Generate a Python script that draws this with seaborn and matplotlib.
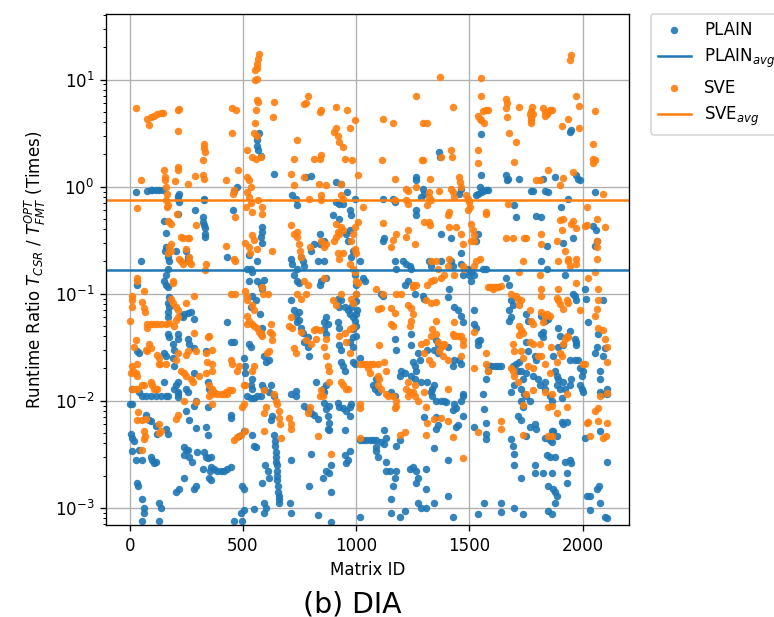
import pandas as pd
import matplotlib
matplotlib.use("Agg")
import matplotlib.pyplot as plt
import seaborn as sns

# (matrix id, runtime ratio), grouped by x range
plain_0_360 = [
    (27, 0.90), (78, 0.92), (93, 0.94), (100, 0.94), (115, 0.94), (130, 0.94), (145, 0.94),
    (218, 0.86), (211, 0.81), (215, 0.77), (218, 0.72),
    (329, 0.77), (326, 0.75), (289, 0.61), (215, 0.55), (152, 0.48),
    (322, 0.52), (325, 0.47), (329, 0.44), (332, 0.41), (333, 0.36), (332, 0.34),
    (159, 0.37), (204, 0.25), (159, 0.27), (156, 0.25), (171, 0.22), (174, 0.20),
    (248, 0.25), (255, 0.22), (255, 0.20), (49, 0.20),
    (167, 0.17), (159, 0.15), (152, 0.13), (159, 0.12), (167, 0.115), (34, 0.12),
    (174, 0.094), (167, 0.082), (174, 0.075), (167, 0.068), (170, 0.060),
    (226, 0.062), (233, 0.060), (240, 0.064), (255, 0.066), (270, 0.068), (285, 0.058),
    (167, 0.042), (174, 0.039), (211, 0.042), (211, 0.038), (255, 0.038), (263, 0.034),
    (189, 0.034), (196, 0.030), (189, 0.025), (196, 0.021), (152, 0.028), (159, 0.026),
    (285, 0.031), (336, 0.029), (34, 0.029), (41, 0.028),
    (152, 0.015), (211, 0.015), (204, 0.014), (196, 0.013), (211, 0.012), (285, 0.018),
    (12, 0.013), (41, 0.012), (56, 0.011), (71, 0.011), (93, 0.011), (115, 0.011),
    (137, 0.011), (159, 0.011), (167, 0.011),
    (248, 0.013), (255, 0.012), (344, 0.015), (351, 0.013),
    (0, 0.0094), (12, 0.0094), (215, 0.0108), (211, 0.0116), (292, 0.010), (285, 0.009),
    (344, 0.0087), (248, 0.008), (260, 0.0066), (71, 0.0074), (86, 0.0066), (93, 0.0064),
    (115, 0.0058), (122, 0.0049), (159, 0.0055), (167, 0.0049), (292, 0.0056),
    (336, 0.0057), (344, 0.0048), (4, 0.0049), (12, 0.0045), (19, 0.0042),
    (41, 0.0035), (27, 0.0028), (12, 0.0034), (56, 0.0028), (93, 0.0030), (100, 0.0028),
    (108, 0.0026), (115, 0.0027),
    (240, 0.0037), (248, 0.0035), (255, 0.0035), (240, 0.0031), (263, 0.0030), (277, 0.0027),
    (299, 0.0033), (329, 0.0033), (336, 0.0030), (344, 0.0029), (322, 0.0023), (354, 0.0022),
    (240, 0.0019), (285, 0.0015), (292, 0.0016), (351, 0.0019), (34, 0.0017), (38, 0.0016),
    (204, 0.0014), (218, 0.0015), (56, 0.0012), (63, 0.0010), (63, 0.0009), (53, 0.00076),
    (130, 0.0011), (137, 0.0010), (130, 0.00076),
]

plain_360_820 = [
    (570, 3.2), (563, 3.0), (563, 2.7), (563, 2.4), (566, 2.2), (578, 1.95),
    (637, 1.32), (475, 1.0), (460, 0.92), (455, 0.60),
    (718, 0.83), (733, 0.77), (740, 0.67), (777, 1.23), (799, 1.26),
    (582, 0.42), (585, 0.38), (578, 0.34), (582, 0.30), (428, 0.22),
    (526, 0.23), (563, 0.20), (519, 0.17), (534, 0.17), (541, 0.16),
    (711, 0.21), (718, 0.19), (755, 0.22), (763, 0.20), (770, 0.18), (740, 0.17), (726, 0.15),
    (814, 0.29), (799, 0.25),
    (526, 0.13), (563, 0.13), (593, 0.135), (578, 0.12), (585, 0.11), (740, 0.13), (748, 0.125),
    (541, 0.096), (556, 0.087), (534, 0.075),
    (711, 0.087), (726, 0.070), (748, 0.068), (733, 0.062), (748, 0.057), (740, 0.054),
    (755, 0.048), (763, 0.043), (785, 0.039),
    (575, 0.065), (585, 0.048), (578, 0.042), (527, 0.034), (534, 0.032),
    (770, 0.035), (785, 0.032), (792, 0.026), (428, 0.054), (445, 0.035), (460, 0.035),
    (504, 0.025), (511, 0.021), (511, 0.018), (593, 0.026), (600, 0.023), (615, 0.024),
    (541, 0.016), (534, 0.014), (541, 0.013), (585, 0.014), (593, 0.013),
    (622, 0.014), (615, 0.012), (637, 0.011),
    (519, 0.011), (534, 0.0105), (549, 0.0105), (563, 0.011), (578, 0.011),
    (711, 0.0116), (733, 0.0123), (733, 0.011),
    (770, 0.009), (785, 0.0084), (799, 0.0076), (814, 0.0073), (445, 0.0073), (445, 0.0069),
    (630, 0.0072), (622, 0.0066), (482, 0.0047), (504, 0.0052), (541, 0.0048),
    (549, 0.0038), (556, 0.0037),
    (637, 0.0048), (640, 0.0042), (642, 0.0038), (644, 0.0033), (646, 0.0030), (648, 0.0027),
    (649, 0.0025), (650, 0.0022), (652, 0.0020), (652, 0.0018), (654, 0.0016), (656, 0.0014),
    (657, 0.0013), (659, 0.0012), (660, 0.0011),
    (597, 0.0025), (611, 0.0022), (615, 0.0019),
    (357, 0.0030), (357, 0.0024), (372, 0.0023), (386, 0.0022), (401, 0.0022), (416, 0.0022),
    (431, 0.0023), (445, 0.0024), (357, 0.0018),
    (711, 0.0028), (799, 0.0032), (792, 0.0016), (585, 0.0017), (497, 0.0016), (504, 0.0015),
    (593, 0.0011), (600, 0.0010), (593, 0.0009), (708, 0.0011), (711, 0.0009),
    (504, 0.00095), (490, 0.0009), (497, 0.00075), (460, 0.00075), (549, 0.00098),
]

plain_820_1290 = [
    (909, 1.10), (934, 1.05), (960, 0.90), (1266, 1.23), (1266, 1.15),
    (912, 0.72), (926, 0.69), (941, 0.69), (971, 0.60), (978, 0.54),
    (993, 0.76), (1118, 0.77), (1162, 0.77), (1170, 0.72), (1266, 0.60), (1266, 0.54),
    (897, 0.54), (926, 0.50), (838, 0.36), (841, 0.29), (860, 0.31),
    (971, 0.39), (956, 0.36), (963, 0.31), (1118, 0.31), (1125, 0.33),
    (830, 0.20), (860, 0.20), (845, 0.13), (838, 0.12), (867, 0.14),
    (985, 0.25), (978, 0.22), (1015, 0.20), (1030, 0.14), (1037, 0.13),
    (1170, 0.20), (1177, 0.17), (1207, 0.20), (1221, 0.19), (1236, 0.18), (1243, 0.17),
    (1229, 0.13), (1214, 0.12), (1258, 0.10), (1111, 0.10), (1118, 0.096),
    (995, 0.15), (997, 0.12), (1000, 0.10), (1000, 0.085), (1003, 0.070), (1000, 0.050),
    (998, 0.040),
    (919, 0.090), (934, 0.087), (926, 0.075), (949, 0.075), (963, 0.070), (971, 0.065),
    (978, 0.075), (985, 0.081), (985, 0.060), (993, 0.056), (1000, 0.065),
    (919, 0.054), (926, 0.048), (867, 0.060), (860, 0.054), (875, 0.052), (860, 0.047),
    (867, 0.042), (985, 0.047), (985, 0.039), (971, 0.035), (985, 0.032), (926, 0.033),
    (934, 0.030), (1170, 0.038), (1177, 0.030),
    (1243, 0.042), (1243, 0.033), (1251, 0.023), (1258, 0.021), (1266, 0.019), (1243, 0.017),
    (1258, 0.016), (1273, 0.028), (1280, 0.024), (1199, 0.019), (1192, 0.017), (1214, 0.018),
    (934, 0.023), (941, 0.021), (949, 0.019), (985, 0.023), (993, 0.022),
    (823, 0.015), (867, 0.014), (852, 0.013), (860, 0.012), (1015, 0.025),
    (1089, 0.016), (1074, 0.014), (1081, 0.013), (1096, 0.012), (1155, 0.012), (1170, 0.011),
    (860, 0.0095), (867, 0.0083), (882, 0.009), (919, 0.0095), (926, 0.0088), (941, 0.0085),
    (956, 0.008), (971, 0.0088), (978, 0.0094),
    (830, 0.0067), (875, 0.0072), (882, 0.0062), (875, 0.0054), (882, 0.0053), (949, 0.0053),
    (971, 0.0072),
    (1015, 0.0043), (1030, 0.0043), (1044, 0.0043), (1059, 0.0043), (1074, 0.0043),
    (1089, 0.0043), (1111, 0.0041), (1089, 0.0037), (1089, 0.0034), (1096, 0.0030),
    (1125, 0.0053), (1133, 0.0045), (1125, 0.0039),
    (1133, 0.0022), (1148, 0.0022), (1177, 0.0022), (1170, 0.0019), (1162, 0.0016),
    (1133, 0.0027), (1192, 0.0043), (1177, 0.0038),
    (1236, 0.0023), (1251, 0.0024), (1266, 0.0022), (1273, 0.0019), (1266, 0.0017),
    (1273, 0.0011), (882, 0.0021), (867, 0.0022), (852, 0.0019), (889, 0.0025),
    (949, 0.0031), (963, 0.0028), (956, 0.0026), (971, 0.0034),
    (889, 0.0014), (830, 0.00085), (889, 0.00073), (1015, 0.00082),
    (1155, 0.0009), (1192, 0.00082), (1214, 0.00093), (1155, 0.0012),
]

plain_1290_1750 = [
    (1552, 3.1), (1367, 2.1), (1371, 1.9),
    (1552, 1.28), (1545, 1.0), (1537, 0.86), (1552, 0.89), (1560, 0.92), (1574, 0.94),
    (1581, 0.94), (1530, 0.83),
    (1662, 1.28), (1670, 1.19), (1666, 1.15), (1721, 1.19),
    (1293, 0.96), (1301, 0.86), (1286, 0.80), (1463, 0.96), (1456, 0.86),
    (1699, 0.67), (1707, 0.52), (1374, 0.36), (1419, 0.33), (1537, 0.36), (1530, 0.31),
    (1463, 0.24),
    (1322, 0.20), (1330, 0.18), (1374, 0.20), (1419, 0.20), (1426, 0.18), (1463, 0.19),
    (1470, 0.15), (1493, 0.17), (1500, 0.15), (1507, 0.13), (1522, 0.15), (1507, 0.16),
    (1560, 0.17), (1574, 0.17),
    (1662, 0.14), (1677, 0.12), (1411, 0.11), (1404, 0.093), (1301, 0.090), (1293, 0.096),
    (1684, 0.087), (1692, 0.078), (1677, 0.070), (1684, 0.060), (1677, 0.056),
    (1434, 0.075), (1448, 0.070), (1463, 0.062), (1470, 0.054),
    (1522, 0.070), (1522, 0.052), (1530, 0.048), (1545, 0.037), (1537, 0.036), (1537, 0.033),
    (1352, 0.037), (1360, 0.034), (1315, 0.030), (1345, 0.030), (1360, 0.028),
    (1404, 0.032), (1434, 0.024), (1426, 0.021), (1456, 0.024), (1463, 0.022),
    (1581, 0.021), (1589, 0.021), (1596, 0.021), (1611, 0.021), (1625, 0.021), (1640, 0.021),
    (1581, 0.019), (1574, 0.016),
    (1714, 0.019), (1729, 0.019), (1736, 0.016), (1692, 0.021), (1707, 0.022), (1721, 0.023),
    (1684, 0.012), (1699, 0.014), (1729, 0.013), (1743, 0.0116),
    (1286, 0.015), (1315, 0.015), (1345, 0.014), (1337, 0.013), (1330, 0.012), (1337, 0.011),
    (1352, 0.010), (1374, 0.010), (1389, 0.010), (1396, 0.0097),
    (1470, 0.0116), (1470, 0.011), (1463, 0.010), (1434, 0.0094), (1441, 0.0085),
    (1426, 0.0082), (1560, 0.0116), (1566, 0.0083),
    (1729, 0.010), (1736, 0.0088), (1729, 0.0066), (1714, 0.0072),
    (1301, 0.0070), (1352, 0.0070), (1360, 0.0059), (1352, 0.0055),
    (1441, 0.0057), (1448, 0.0059), (1470, 0.0072),
    (1522, 0.0057), (1574, 0.0062), (1574, 0.0049), (1574, 0.0044),
    (1345, 0.0036), (1404, 0.0028),
    (1684, 0.0044), (1692, 0.0038), (1699, 0.0032), (1699, 0.0025),
    (1308, 0.0023), (1729, 0.0019), (1308, 0.0015),
    (1345, 0.0011), (1404, 0.0013), (1286, 0.0010), (1308, 0.0010), (1426, 0.00082),
    (1537, 0.00088), (1566, 0.0011), (1640, 0.0011), (1640, 0.00092), (1699, 0.0010),
    (1736, 0.00088),
]

plain_1750_2110 = [
    (1944, 3.25), (1951, 3.4), (1970, 1.28), (1981, 1.19), (1988, 1.15),
    (1774, 0.92), (1782, 0.92), (1833, 0.92), (1848, 0.89), (1878, 1.23), (1826, 1.19),
    (2055, 0.89), (1937, 0.77), (1904, 0.65), (1796, 0.53), (1818, 0.52),
    (2047, 0.43), (2059, 0.39), (2065, 0.31), (2055, 0.28),
    (1959, 0.33), (1914, 0.30), (1841, 0.28), (1818, 0.20), (1841, 0.17), (1922, 0.15),
    (1959, 0.10), (2011, 0.11), (2014, 0.09), (1973, 0.087), (1966, 0.096),
    (2092, 0.087), (2025, 0.054), (1752, 0.064), (1759, 0.056),
    (1818, 0.062), (1833, 0.056), (1826, 0.044), (1818, 0.042), (1826, 0.039), (1848, 0.058),
    (1893, 0.048), (1900, 0.040), (1944, 0.045), (1966, 0.038), (1973, 0.035), (1973, 0.033),
    (2070, 0.042), (2062, 0.032), (2055, 0.028), (2099, 0.031), (2092, 0.026),
    (1752, 0.035), (1759, 0.029), (1789, 0.026), (1796, 0.024),
    (1870, 0.026), (1893, 0.032), (1914, 0.033),
    (1944, 0.024), (1966, 0.024), (1981, 0.024), (1988, 0.020), (1996, 0.017), (2003, 0.019),
    (1752, 0.018), (1782, 0.017), (1804, 0.016), (1811, 0.014), (1833, 0.015), (1833, 0.013),
    (1878, 0.019), (1885, 0.017), (1893, 0.016), (1885, 0.014), (1900, 0.013), (1914, 0.015),
    (1922, 0.013), (1944, 0.014), (1951, 0.016),
    (1988, 0.014), (1996, 0.013), (2003, 0.012),
    (2077, 0.019), (2077, 0.016), (2077, 0.012), (2084, 0.0115), (2106, 0.013), (2106, 0.0116),
    (1752, 0.011), (1767, 0.010), (1856, 0.011), (1863, 0.010), (1907, 0.0106),
    (1767, 0.0057), (1789, 0.0060), (1796, 0.0054), (1752, 0.0047),
    (1863, 0.0052), (1870, 0.0052), (1885, 0.0047), (1907, 0.0063), (1914, 0.0061),
    (1929, 0.0063), (1856, 0.0043), (1863, 0.0041), (1833, 0.0045),
    (2011, 0.0045), (2077, 0.0052),
    (1789, 0.0025), (1789, 0.0021), (1826, 0.0021), (1863, 0.0021),
    (1841, 0.0031), (1856, 0.0030), (1878, 0.0030),
    (1922, 0.0027), (1944, 0.0028), (1951, 0.0026), (1929, 0.0021), (2106, 0.0027),
    (1848, 0.0016), (1870, 0.0015), (1878, 0.0014), (1885, 0.0013), (1878, 0.0011),
    (1929, 0.0017),
    (2018, 0.0013), (2033, 0.0013), (2062, 0.0015), (2074, 0.0016), (2077, 0.0011),
    (2033, 0.00096), (1848, 0.00094), (1863, 0.00088), (2099, 0.00082), (2106, 0.0008),
]

sve_0_360 = [
    (27, 5.4), (78, 4.3), (93, 4.5), (108, 4.6), (122, 4.8), (137, 4.9), (148, 4.9), (83, 3.8),
    (211, 5.2), (218, 5.3), (214, 3.3),
    (326, 2.5), (329, 2.3), (332, 2.1), (325, 1.76), (322, 1.28), (326, 1.19), (289, 1.26),
    (211, 1.53), (211, 1.42), (200, 1.12), (152, 1.42), (156, 1.23), (157, 1.15), (159, 1.0),
    (49, 1.15), (255, 1.05), (34, 0.63),
    (164, 0.86), (159, 0.75), (167, 0.67), (164, 0.65), (208, 0.56), (292, 0.44),
    (167, 0.48), (174, 0.47), (181, 0.45),
    (226, 0.34), (233, 0.33), (255, 0.33), (263, 0.33),
    (181, 0.29), (174, 0.27), (181, 0.25), (167, 0.24),
    (248, 0.26), (263, 0.22), (263, 0.20), (270, 0.19),
    (218, 0.21), (226, 0.20), (233, 0.19), (336, 0.19), (333, 0.165),
    (34, 0.14), (34, 0.13), (63, 0.106), (189, 0.13), (193, 0.125),
    (12, 0.096), (12, 0.087), (12, 0.075), (56, 0.084), (63, 0.073), (68, 0.068),
    (184, 0.090), (189, 0.082), (204, 0.075), (211, 0.070), (248, 0.082), (285, 0.095),
    (1, 0.055), (78, 0.052), (93, 0.052), (108, 0.052), (122, 0.052), (137, 0.052),
    (159, 0.052), (174, 0.053), (78, 0.048),
    (196, 0.050), (204, 0.057), (211, 0.060), (285, 0.043), (344, 0.039), (351, 0.040),
    (27, 0.037), (19, 0.032), (86, 0.034), (93, 0.031), (71, 0.030), (78, 0.029),
    (122, 0.027), (127, 0.025), (130, 0.022), (134, 0.022),
    (211, 0.028), (204, 0.024), (255, 0.029), (248, 0.027), (292, 0.029), (336, 0.028),
    (341, 0.023), (34, 0.022), (12, 0.021), (4, 0.018), (15, 0.019), (27, 0.018), (34, 0.017),
    (159, 0.022),
    (226, 0.019), (240, 0.018), (248, 0.017), (270, 0.016), (280, 0.015),
    (307, 0.017), (336, 0.018), (351, 0.014), (358, 0.012), (351, 0.011),
    (53, 0.014), (63, 0.014), (93, 0.015), (100, 0.014), (108, 0.013), (115, 0.013), (122, 0.013),
    (27, 0.013), (12, 0.013), (34, 0.013),
    (240, 0.010), (292, 0.0097), (38, 0.0079), (34, 0.0066), (56, 0.0066), (71, 0.0068),
    (204, 0.0068), (211, 0.0074), (130, 0.0060), (137, 0.0052), (130, 0.0050),
    (63, 0.0052), (68, 0.0047), (63, 0.0044), (53, 0.0035),
]

sve_360_820 = [
    (570, 17.5), (567, 15.7), (563, 14.1), (560, 12.7), (555, 12.2), (563, 10.2), (555, 9.9),
    (561, 6.4), (568, 6.2), (558, 5.2), (452, 5.4), (467, 5.2), (637, 6.2), (634, 4.5),
    (777, 6.0), (770, 5.9), (789, 7.0), (452, 3.2), (553, 3.9), (550, 3.2), (560, 3.0),
    (519, 2.2), (541, 1.9), (556, 1.8), (578, 1.9), (740, 2.7), (724, 1.8), (814, 1.8),
    (478, 1.42), (425, 1.15), (455, 0.86), (460, 0.94), (519, 1.23), (527, 1.15), (534, 1.0),
    (711, 1.32), (726, 1.03), (770, 1.23),
    (519, 0.89), (527, 0.80), (513, 0.65), (534, 0.70), (541, 0.58),
    (567, 0.75), (582, 0.65), (585, 0.56), (464, 0.52), (793, 0.77),
    (711, 0.44), (726, 0.36), (738, 0.38), (740, 0.34), (748, 0.29), (752, 0.25), (755, 0.22),
    (630, 0.25), (426, 0.28), (511, 0.30), (526, 0.27), (531, 0.24), (549, 0.32), (541, 0.35),
    (560, 0.26), (796, 0.27), (460, 0.21), (464, 0.20),
    (511, 0.107), (519, 0.096), (519, 0.087), (445, 0.10), (464, 0.10),
    (582, 0.115), (590, 0.10), (612, 0.10), (770, 0.13), (785, 0.12), (777, 0.10),
    (740, 0.10), (755, 0.09), (541, 0.078), (549, 0.070),
    (519, 0.062), (527, 0.056), (541, 0.052), (549, 0.050), (519, 0.052), (563, 0.048),
    (570, 0.044), (585, 0.040), (578, 0.043),
    (622, 0.052), (619, 0.044), (630, 0.042), (711, 0.060), (704, 0.050), (718, 0.048),
    (755, 0.044), (777, 0.037), (799, 0.034), (814, 0.046), (726, 0.031), (733, 0.028),
    (630, 0.037), (615, 0.029), (608, 0.028),
    (445, 0.024), (453, 0.022), (482, 0.021), (475, 0.019), (549, 0.021), (541, 0.019),
    (504, 0.014), (511, 0.014),
    (365, 0.013), (372, 0.012), (386, 0.0115), (401, 0.0115), (416, 0.0115), (423, 0.012),
    (438, 0.0127), (453, 0.0127), (431, 0.0115), (365, 0.0115), (364, 0.0093),
    (504, 0.0093), (497, 0.0088),
    (637, 0.0116), (644, 0.010), (652, 0.0093), (659, 0.0080), (659, 0.0069), (663, 0.0060),
    (667, 0.0045),
    (593, 0.0125), (600, 0.0088), (593, 0.0076), (593, 0.0052),
    (704, 0.0069), (711, 0.0060), (711, 0.0054), (796, 0.0088), (789, 0.0076),
    (511, 0.0052), (460, 0.0043), (475, 0.0046), (490, 0.0048),
    (362, 0.030), (362, 0.022), (362, 0.019),
]

sve_820_1290 = [
    (1266, 7.0), (845, 5.2), (841, 5.0), (909, 5.5), (960, 5.2), (993, 4.2), (1118, 4.3),
    (1162, 3.9), (904, 3.25), (912, 3.5), (919, 3.0), (926, 2.6), (941, 2.35), (971, 3.5),
    (845, 1.96), (838, 1.83), (949, 1.8), (982, 1.76), (1115, 1.76), (1292, 1.76),
    (1007, 1.28), (1170, 1.19), (1221, 0.96), (1229, 0.92), (1266, 1.0),
    (835, 1.05), (867, 1.03), (934, 1.05),
    (845, 0.83), (845, 0.75), (934, 0.83), (941, 0.77), (1170, 0.75), (1221, 0.75),
    (1229, 0.69), (1030, 0.65),
    (912, 0.45), (919, 0.38), (926, 0.36), (941, 0.39), (934, 0.42),
    (1007, 0.47), (993, 0.42), (985, 0.36), (978, 0.31), (993, 0.26), (1000, 0.24),
    (1118, 0.46), (1177, 0.36), (1162, 0.32), (1155, 0.27), (1229, 0.39), (1221, 0.34),
    (1258, 0.29), (845, 0.31), (860, 0.27), (867, 0.29), (904, 0.31), (912, 0.34),
    (926, 0.21), (919, 0.24), (941, 0.24), (971, 0.19),
    (985, 0.17), (993, 0.16), (1000, 0.13), (1007, 0.125), (1000, 0.10), (860, 0.14),
    (1089, 0.11), (1118, 0.10), (1177, 0.10), (1199, 0.10), (934, 0.10),
    (1251, 0.115), (1251, 0.12), (1266, 0.12),
    (897, 0.087), (912, 0.078), (978, 0.090), (985, 0.081), (1096, 0.072), (1111, 0.074),
    (1155, 0.074), (1170, 0.066), (1155, 0.052), (1162, 0.050),
    (1229, 0.078), (1243, 0.074), (1251, 0.064), (1243, 0.056), (1236, 0.050),
    (823, 0.047), (823, 0.038), (838, 0.046),
    (867, 0.038), (860, 0.032), (867, 0.026), (875, 0.021), (882, 0.019),
    (926, 0.040), (949, 0.043), (971, 0.047), (985, 0.049), (956, 0.035), (971, 0.028),
    (1015, 0.022), (1030, 0.022), (1044, 0.022), (1059, 0.022), (1074, 0.022), (1096, 0.022),
    (1052, 0.020), (1059, 0.018), (1096, 0.017), (1103, 0.016), (1096, 0.014), (1111, 0.013),
    (1125, 0.023), (1103, 0.033), (1133, 0.019),
    (1133, 0.0116), (1140, 0.011), (1162, 0.011), (1177, 0.010),
    (934, 0.015), (956, 0.013), (963, 0.013), (941, 0.014), (882, 0.015),
    (845, 0.0125), (838, 0.011), (855, 0.011),
    (1229, 0.015), (1221, 0.013), (1236, 0.012), (1229, 0.011), (1258, 0.014), (1251, 0.012),
    (1258, 0.011), (1273, 0.010),
    (1015, 0.0094), (1015, 0.0086), (1177, 0.009), (1170, 0.0086),
    (1192, 0.0048), (1214, 0.0051), (830, 0.0047), (889, 0.0032), (1015, 0.0045),
]

sve_1290_1750 = [
    (1370, 10.6), (1552, 10.4), (1552, 7.0), (1662, 6.6), (1666, 6.0), (1662, 5.4),
    (1721, 5.5), (1429, 5.5),
    (1537, 4.6), (1545, 4.3), (1560, 5.1), (1574, 5.2), (1581, 5.2), (1552, 4.2), (1563, 3.9),
    (1666, 4.5), (1293, 3.9), (1315, 3.9), (1673, 3.2), (1707, 2.6), (1537, 2.2),
    (1419, 2.2), (1422, 1.9), (1374, 1.9), (1293, 1.76), (1699, 1.7), (1540, 1.65),
    (1456, 1.23), (1459, 1.1), (1463, 1.0), (1326, 1.17), (1366, 0.92), (1322, 0.89),
    (1419, 0.96), (1426, 0.89), (1434, 0.80),
    (1485, 0.83), (1493, 0.77), (1500, 0.72), (1504, 0.65), (1493, 0.60),
    (1322, 0.80), (1330, 0.75), (1315, 0.67), (1574, 0.58), (1574, 0.56), (1670, 0.69),
    (1411, 0.58), (1404, 0.54), (1411, 0.42), (1301, 0.47), (1322, 0.47), (1326, 0.44),
    (1441, 0.42),
    (1507, 0.45), (1515, 0.39), (1522, 0.35), (1522, 0.31), (1507, 0.31), (1463, 0.36),
    (1470, 0.29), (1662, 0.33), (1692, 0.33), (1743, 0.33),
    (1330, 0.20), (1352, 0.20), (1360, 0.17), (1374, 0.14), (1389, 0.15), (1404, 0.18),
    (1411, 0.21), (1434, 0.15), (1470, 0.18), (1478, 0.17), (1530, 0.20), (1545, 0.21),
    (1522, 0.18),
    (1581, 0.115), (1589, 0.115), (1596, 0.115), (1603, 0.115), (1611, 0.115), (1618, 0.115),
    (1625, 0.115), (1640, 0.118), (1603, 0.11),
    (1721, 0.16), (1736, 0.20), (1315, 0.12), (1330, 0.13), (1345, 0.135),
    (1307, 0.087), (1330, 0.081), (1352, 0.084),
    (1684, 0.10), (1707, 0.096), (1714, 0.090), (1729, 0.087), (1721, 0.078),
    (1352, 0.056), (1337, 0.047), (1330, 0.040), (1352, 0.042), (1360, 0.035), (1374, 0.032),
    (1382, 0.033), (1389, 0.034), (1367, 0.029), (1382, 0.026),
    (1434, 0.054), (1426, 0.042), (1434, 0.040), (1448, 0.040), (1463, 0.040), (1470, 0.037),
    (1470, 0.033), (1463, 0.026),
    (1404, 0.024), (1301, 0.028), (1286, 0.034), (1308, 0.035), (1322, 0.024), (1337, 0.022),
    (1522, 0.044), (1574, 0.028), (1574, 0.022), (1581, 0.019), (1522, 0.020),
    (1692, 0.034), (1699, 0.029), (1721, 0.050), (1729, 0.046), (1736, 0.043), (1721, 0.041),
    (1729, 0.029), (1736, 0.025),
    (1684, 0.020), (1692, 0.019), (1699, 0.017), (1714, 0.015),
    (1404, 0.013), (1301, 0.012), (1308, 0.0088),
    (1345, 0.0067), (1315, 0.0062), (1308, 0.0048), (1404, 0.0065), (1374, 0.0069),
    (1426, 0.0046), (1470, 0.0029), (1537, 0.0051), (1640, 0.0065), (1640, 0.0054),
    (1736, 0.0091), (1736, 0.0048),
]

sve_1750_2110 = [
    (1950, 16.9), (1943, 15.2), (1973, 7.0), (1982, 5.7), (2055, 5.1),
    (1774, 5.1), (1767, 4.8), (1774, 4.5), (1770, 4.2), (1774, 3.9), (1782, 4.8), (1778, 5.5),
    (1826, 5.4), (1833, 5.0), (1841, 4.8), (1848, 5.0), (1856, 5.2), (1863, 5.2), (1833, 4.6),
    (1937, 4.3), (1907, 3.7), (1982, 3.5),
    (2047, 2.5), (2047, 1.8), (2055, 1.76), (2047, 1.65),
    (1959, 1.37), (1914, 1.2), (1900, 1.03), (1848, 1.42), (1796, 1.15), (1811, 1.15),
    (2091, 0.86), (2018, 0.64), (2065, 0.50), (2097, 0.42), (2011, 0.43), (2018, 0.44),
    (1959, 0.48), (1951, 0.45), (1973, 0.41), (1914, 0.50), (1900, 0.49), (1907, 0.39),
    (1818, 0.36), (1818, 0.29), (1752, 0.33),
    (1885, 0.31), (1922, 0.25), (1893, 0.20), (1937, 0.20), (1944, 0.18), (1973, 0.21),
    (1973, 0.19), (1937, 0.21),
    (2062, 0.31), (2062, 0.27), (2062, 0.21), (2055, 0.16),
    (2025, 0.14), (1973, 0.125), (2070, 0.11),
    (1811, 0.15), (1818, 0.11), (1818, 0.096),
    (1893, 0.11), (1885, 0.092), (1893, 0.087), (1900, 0.080), (1914, 0.072), (1929, 0.088),
    (1937, 0.082),
    (1767, 0.070), (1774, 0.056), (1782, 0.052), (1818, 0.068), (1833, 0.062), (1841, 0.064),
    (1856, 0.062), (1826, 0.054),
    (1988, 0.070), (2055, 0.062), (2062, 0.072), (2070, 0.087), (2070, 0.048), (2092, 0.046),
    (2099, 0.038), (2106, 0.032), (2106, 0.023),
    (1929, 0.040), (1937, 0.039), (1922, 0.038),
    (1767, 0.035), (1782, 0.034), (1811, 0.034), (1804, 0.026), (1818, 0.026),
    (1859, 0.032), (1914, 0.034), (1900, 0.028), (1907, 0.026),
    (2003, 0.022), (2011, 0.022),
    (1759, 0.021), (1782, 0.020), (1833, 0.022), (1856, 0.018), (1885, 0.023),
    (1752, 0.0116), (1782, 0.0125), (1833, 0.012), (1863, 0.0116), (1929, 0.0116),
    (2077, 0.011), (2106, 0.0117),
    (1848, 0.0088), (1863, 0.009), (1929, 0.0088), (1885, 0.0076),
    (2055, 0.0081), (2070, 0.0085), (2070, 0.0065), (2025, 0.0063), (2018, 0.0062),
    (2106, 0.0062), (2103, 0.0047), (2091, 0.0045), (2033, 0.0047),
    (1848, 0.0047), (1863, 0.0047),
]

plain_avg = 0.165
sve_avg = 0.745

plain = pd.DataFrame(plain_0_360 + plain_360_820 + plain_820_1290 + plain_1290_1750
                     + plain_1750_2110, columns=["Matrix ID", "Ratio"])
sve = pd.DataFrame(sve_0_360 + sve_360_820 + sve_820_1290 + sve_1290_1750
                   + sve_1750_2110, columns=["Matrix ID", "Ratio"])

fig = plt.figure(figsize=(774 / 120, 617 / 120), dpi=120)
ax = fig.add_axes([106 / 774, 92 / 617, 523 / 774, 511 / 617])

sns.scatterplot(data=plain, x="Matrix ID", y="Ratio", ax=ax, color="tab:blue",
                s=20, linewidth=0, alpha=0.9, label="PLAIN", legend=False)
ax.axhline(plain_avg, color="tab:blue", lw=1.5, label=r"PLAIN$_{avg}$")
sns.scatterplot(data=sve, x="Matrix ID", y="Ratio", ax=ax, color="tab:orange",
                s=20, linewidth=0, alpha=0.9, label="SVE", legend=False)
ax.axhline(sve_avg, color="tab:orange", lw=1.5, label=r"SVE$_{avg}$")

ax.set_yscale("log")
ax.set_xlim(-105, 2205)
ax.set_ylim(6.9e-4, 41)
ax.grid(True, which="major", color="#b0b0b0", linewidth=0.8)
ax.set_axisbelow(True)
ax.set_xlabel("Matrix ID")
ax.set_ylabel(r"Runtime Ratio $T_{CSR}$ / $T_{FMT}^{OPT}$ (Times)")
ax.legend(loc="upper left", bbox_to_anchor=(1.042, 1.0), borderaxespad=0)

fig.text(352 / 774, 13 / 617, "(b) DIA", ha="center", va="center", fontsize=17)

fig.savefig("out.png", dpi=120)
